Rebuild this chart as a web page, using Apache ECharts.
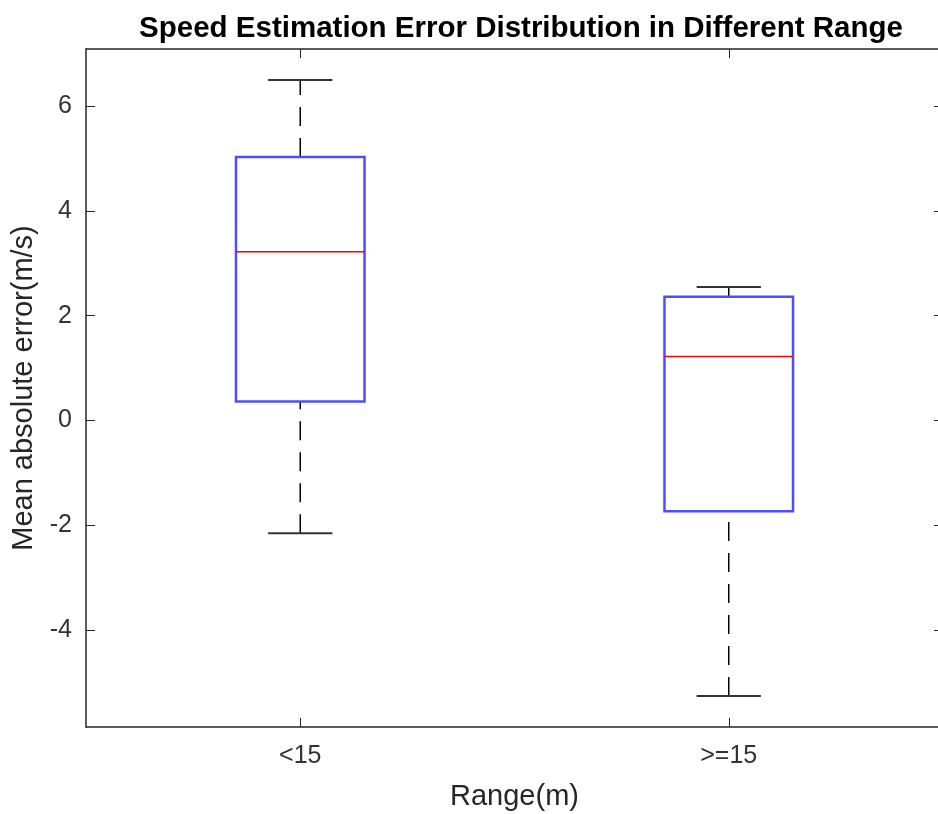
<!DOCTYPE html>
<html>
<head>
<meta charset="utf-8">
<script src="https://cdn.jsdelivr.net/npm/echarts@6/dist/echarts.min.js"></script>
<style>
html,body{margin:0;padding:0;background:#fff;}
#chart{width:938px;height:814px;}
</style>
</head>
<body>
<div id="chart"></div>
<script>
// Data
const categories = ['<15', '>=15'];
const whiskerLow  = [-2.15, -5.26];
const quartile1   = [0.36, -1.73];
const medianVals  = [3.22, 1.22];
const quartile3   = [5.03, 2.36];
const whiskerHigh = [6.50, 2.55];
const yTickValues = [-4, -2, 0, 2, 4, 6];

const boxData = categories.map((c, i) => [i, whiskerLow[i], quartile1[i], medianVals[i], quartile3[i], whiskerHigh[i]]);

const FONT = '"Liberation Sans", Arial, Helvetica, sans-serif';
const AXIS_COLOR = '#262626';

function renderBox(params, api) {
  const x = api.value(0);
  const band = api.size([1, 0])[0];
  const boxW = band * 0.3;
  const capW = band * 0.15;
  const pLow = api.coord([x, api.value(1)]);
  const pQ1 = api.coord([x, api.value(2)]);
  const pMed = api.coord([x, api.value(3)]);
  const pQ3 = api.coord([x, api.value(4)]);
  const pHigh = api.coord([x, api.value(5)]);
  const cx = pMed[0];
  const whiskerStyle = { stroke: '#000', lineWidth: 1.5, lineDash: [19, 12] };
  const capStyle = { stroke: '#333', lineWidth: 2 };
  return {
    type: 'group',
    children: [
      { type: 'line', shape: { x1: cx, y1: pQ3[1], x2: cx, y2: pHigh[1] }, style: whiskerStyle },
      { type: 'line', shape: { x1: cx, y1: pLow[1], x2: cx, y2: pQ1[1] }, style: whiskerStyle },
      { type: 'line', shape: { x1: cx - capW / 2, y1: pHigh[1], x2: cx + capW / 2, y2: pHigh[1] }, style: capStyle },
      { type: 'line', shape: { x1: cx - capW / 2, y1: pLow[1], x2: cx + capW / 2, y2: pLow[1] }, style: capStyle },
      { type: 'rect', shape: { x: cx - boxW / 2, y: pQ3[1], width: boxW, height: pQ1[1] - pQ3[1] },
        style: { fill: 'none', stroke: '#4d4dff', lineWidth: 2.5 } },
      { type: 'line', shape: { x1: cx - boxW / 2, y1: pMed[1], x2: cx + boxW / 2, y2: pMed[1] },
        style: { stroke: '#ff0000', lineWidth: 1.5 } }
    ]
  };
}

const chart = echarts.init(document.getElementById('chart'), null, { renderer: 'canvas' });
chart.setOption({
  animation: false,
  backgroundColor: '#fff',
  title: {
    text: 'Speed Estimation Error Distribution in Different Range',
    left: 516, top: 9, textAlign: 'center',
    textStyle: { fontFamily: FONT, fontSize: 29.5, fontWeight: 'bold', color: '#000' }
  },
  grid: { left: 86, top: 49, width: 857, height: 678, containLabel: false, outerBoundsMode: 'none' },
  xAxis: [
    {
      type: 'category', data: categories, position: 'bottom', boundaryGap: true,
      name: 'Range(m)', nameLocation: 'middle', nameGap: 55,
      nameTextStyle: { fontFamily: FONT, fontSize: 29, color: AXIS_COLOR },
      axisLine: { show: true, onZero: false, lineStyle: { color: AXIS_COLOR, width: 1.5 } },
      axisTick: { show: true, inside: true, alignWithLabel: true, length: 9, lineStyle: { color: AXIS_COLOR } },
      axisLabel: { fontFamily: FONT, fontSize: 25, color: '#333', margin: 17 },
      splitLine: { show: false }
    },
    {
      type: 'category', data: categories, position: 'top', boundaryGap: true,
      axisLine: { show: true, onZero: false, lineStyle: { color: AXIS_COLOR, width: 1.5 } },
      axisTick: { show: true, inside: true, alignWithLabel: true, length: 9, lineStyle: { color: AXIS_COLOR } },
      axisLabel: { show: false },
      splitLine: { show: false }
    }
  ],
  yAxis: [
    {
      type: 'value', min: -5.85, max: 7.09, position: 'left',
      name: 'Mean absolute error(m/s)', nameLocation: 'middle', nameGap: 40, nameRotate: 90,
      nameTextStyle: { fontFamily: FONT, fontSize: 29, color: AXIS_COLOR },
      axisLine: { show: true, onZero: false, lineStyle: { color: AXIS_COLOR, width: 1.5 } },
      axisTick: { show: true, inside: true, length: 9, customValues: yTickValues, lineStyle: { color: AXIS_COLOR } },
      axisLabel: { fontFamily: FONT, fontSize: 25, color: '#333', margin: 14, customValues: yTickValues },
      splitLine: { show: false }
    },
    {
      type: 'value', min: -5.85, max: 7.09, position: 'right',
      axisLine: { show: true, onZero: false, lineStyle: { color: AXIS_COLOR, width: 1.5 } },
      axisTick: { show: true, inside: true, length: 9, customValues: yTickValues, lineStyle: { color: AXIS_COLOR } },
      axisLabel: { show: false },
      splitLine: { show: false }
    }
  ],
  series: [{
    type: 'custom',
    xAxisIndex: 0, yAxisIndex: 0,
    renderItem: renderBox,
    encode: { x: 0, y: [1, 2, 3, 4, 5] },
    data: boxData
  }]
});
</script>
</body>
</html>
